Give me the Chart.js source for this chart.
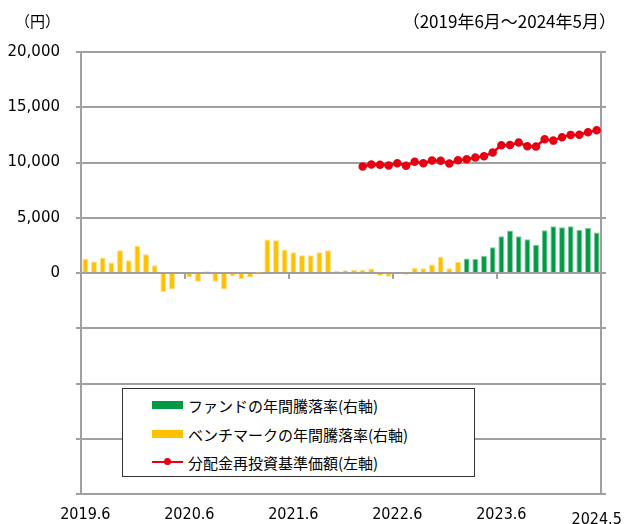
<!DOCTYPE html>
<html>
<head>
<meta charset="utf-8">
<script src="https://cdn.jsdelivr.net/npm/chart.js@4/dist/chart.umd.min.js"></script>
<style>
  body { margin: 0; background: #fff; }
  #wrap { position: relative; width: 625px; height: 524px; font-family: "Noto Sans CJK JP", sans-serif; color: #000; }
  #chart { position: absolute; left: 0; top: 0; }
  #unit { position: absolute; left: 15px; top: 10px; font-size: 15px; }
  #period { position: absolute; right: 9px; top: 8px; font-size: 17px; }
  #legend { position: absolute; left: 122px; top: 388px; width: 353px; height: 89px; box-sizing: border-box;
            border: 1px solid #333; background: #fff; }
  .item { position: absolute; left: 29px; height: 20px; display: flex; align-items: center; font-size: 15px; white-space: nowrap; }
  .sw { width: 31px; height: 8px; margin-right: 5px; position: relative; }
</style>
</head>
<body>
<div id="wrap">
  <canvas id="chart" width="625" height="524"></canvas>
  <div id="unit">（円）</div>
  <div id="period">（2019年6月～2024年5月）</div>
  <div id="legend"></div>
</div>
<script>
const months = [
  "2019.6", "2019.7", "2019.8", "2019.9", "2019.10", "2019.11", "2019.12",
  "2020.1", "2020.2", "2020.3", "2020.4", "2020.5", "2020.6", "2020.7", "2020.8", "2020.9", "2020.10", "2020.11", "2020.12",
  "2021.1", "2021.2", "2021.3", "2021.4", "2021.5", "2021.6", "2021.7", "2021.8", "2021.9", "2021.10", "2021.11", "2021.12",
  "2022.1", "2022.2", "2022.3", "2022.4", "2022.5", "2022.6", "2022.7", "2022.8", "2022.9", "2022.10", "2022.11", "2022.12",
  "2023.1", "2023.2", "2023.3", "2023.4", "2023.5", "2023.6", "2023.7", "2023.8", "2023.9", "2023.10", "2023.11", "2023.12",
  "2024.1", "2024.2", "2024.3", "2024.4", "2024.5"
];
const tickLabels = ["2019.6", "2020.6", "2021.6", "2022.6", "2023.6", "2024.5"];

// annual return, % (right axis)
const fundReturn = [
  null, null, null, null, null, null, null, null, null, null,
  null, null, null, null, null, null, null, null, null, null,
  null, null, null, null, null, null, null, null, null, null,
  null, null, null, null, null, null, null, null, null, null,
  null, null, null, null,
  13.2, 12.6, 15.6, 23.4, 33.3, 38.4, 33.3, 30.6, 25.5, 38.7, 42.3, 41.4, 42.3, 39.0, 40.8, 36.6
];
const benchReturn = [
  13.0, 10.5, 14.0, 9.5, 20.5, 11.5, 24.5, 17.0, 7.0, -17.5,
  -15.0, 1.0, -4.0, -8.0, 1.5, -8.0, -15.0, -3.0, -5.5, -4.0,
  0.2, 30.3, 29.7, 21.3, 18.7, 16.0, 16.0, 18.7, 20.5, 2.0,
  2.5, 3.0, 3.0, 4.0, -2.5, -3.5, 0, -1.5, 4.8, 4.2,
  7.8, 14.7, 4.2, 10.2,
  null, null, null, null, null, null, null, null, null, null, null, null, null, null, null, null
];
// NAV with dividends reinvested, yen (left axis)
const navReinvested = [
  null, null, null, null, null, null, null, null, null, null,
  null, null, null, null, null, null, null, null, null, null,
  null, null, null, null, null, null, null, null, null, null,
  null, null,
  9640, 9820, 9790, 9730, 9940, 9700, 10060, 9940, 10180, 10150,
  9910, 10210, 10300, 10450, 10570, 10900, 11560, 11590, 11800, 11480,
  11450, 12110, 11980, 12290, 12500, 12520, 12740, 12920
];

const gridColor = "#a0a0a0";
const green = "#009a44";
const yellow = "#ffc000";
const red = "#e60012";

const config = {
  type: "bar",
  data: {
    labels: months,
    datasets: [
      {
        label: "ファンドの年間騰落率(右軸)",
        data: fundReturn,
        backgroundColor: green,
        borderColor: "#7fcc9f",
        borderWidth: 1,
        yAxisID: "y2",
        xAxisID: "x",
        grouped: false,
        barPercentage: 0.68,
        categoryPercentage: 1,
        order: 2,
      },
      {
        label: "ベンチマークの年間騰落率(右軸)",
        data: benchReturn,
        backgroundColor: yellow,
        borderColor: "#ffdf80",
        borderWidth: 1,
        yAxisID: "y2",
        xAxisID: "x",
        grouped: false,
        barPercentage: 0.68,
        categoryPercentage: 1,
        order: 3,
      },
      {
        type: "line",
        label: "分配金再投資基準価額(左軸)",
        data: navReinvested,
        borderColor: red,
        backgroundColor: red,
        borderWidth: 2.5,
        pointRadius: 3,
        pointHoverRadius: 3,
        yAxisID: "y",
        xAxisID: "x",
        order: 0,
      },
    ],
  },
  options: {
    responsive: false,
    animation: false,
    layout: { padding: { top: 52, right: 0, bottom: 0, left: 0 } },
    plugins: { legend: { display: false }, tooltip: { enabled: false } },
    scales: {
      x: {
        position: "bottom",
        offset: true,
        grid: { display: false, offset: true },
        border: { display: false },
        ticks: {
          autoSkip: false,
          maxRotation: 0,
          padding: 3,
          color: "#000",
          font: (c) => ({
            family: "'Liberation Sans Narrow', 'DejaVu Sans Condensed', sans-serif",
            size: 16,
            lineHeight: c.index === 59 ? 1.85 : 1.2,
          }),
          callback: (v, i) => (tickLabels.includes(months[i]) ? months[i] : ""),
        },
        afterFit: (s) => {
          s.height = 30;
          s.paddingLeft = 0;
          s.paddingRight = 0;
        },
      },
      x0: {
        position: { y: 0 },
        offset: true,
        ticks: { display: false },
        border: { display: true, color: gridColor, width: 2 },
        grid: {
          offset: true,
          drawOnChartArea: false,
          tickLength: 5,
          lineWidth: 2,
          color: (c) => (c.index > 0 && c.index % 12 === 0 ? gridColor : "rgba(0,0,0,0)"),
        },
      },
      y: {
        position: "left",
        min: -20000,
        max: 20000,
        ticks: {
          stepSize: 5000,
          padding: 16,
          color: "#000",
          font: { family: "'DejaVu Sans', sans-serif", size: 15 },
          callback: (v) => (v < 0 ? "" : v.toLocaleString("en-US")),
        },
        grid: { color: gridColor, lineWidth: 2, tickLength: 5 },
        border: { color: gridColor, width: 2 },
        afterFit: (s) => { s.width = 81; },
      },
      y2: {
        position: "right",
        min: -200,
        max: 200,
        ticks: { stepSize: 50, display: false },
        grid: { drawOnChartArea: false, color: gridColor, lineWidth: 2, tickLength: 5 },
        border: { color: gridColor, width: 2 },
        afterFit: (s) => { s.width = 24; },
      },
    },
  },
};

const chart = new Chart(document.getElementById("chart").getContext("2d"), config);

// legend box, built from the datasets
const legend = document.getElementById("legend");
const rowTops = [6, 35, 63];
chart.data.datasets.forEach((ds, i) => {
  const item = document.createElement("div");
  item.className = "item";
  item.style.top = rowTops[i] + "px";
  const sw = document.createElement("div");
  sw.className = "sw";
  if (ds.type === "line") {
    sw.style.height = "10px";
    sw.innerHTML =
      '<div style="position:absolute;left:0;right:0;top:4px;height:2px;background:' + ds.borderColor + '"></div>' +
      '<div style="position:absolute;left:12px;top:1px;width:7px;height:7px;border-radius:50%;background:' + ds.borderColor + '"></div>';
  } else {
    sw.style.background = ds.backgroundColor;
  }
  item.appendChild(sw);
  item.appendChild(document.createTextNode(ds.label));
  legend.appendChild(item);
});
</script>
</body>
</html>
